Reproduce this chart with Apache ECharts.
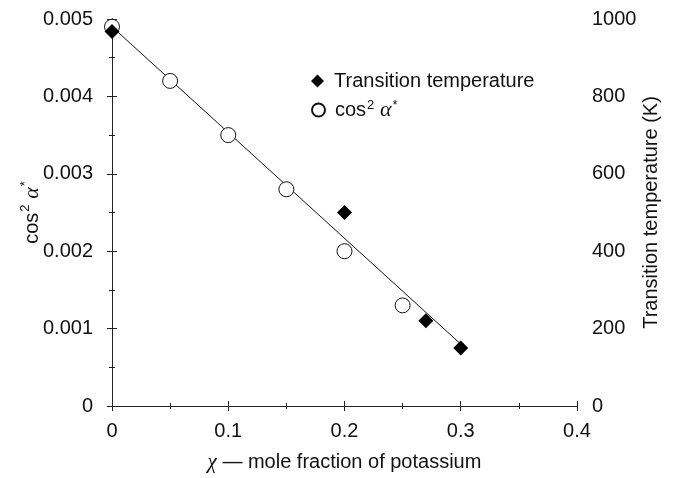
<!DOCTYPE html>
<html>
<head>
<meta charset="utf-8">
<script src="https://cdn.jsdelivr.net/npm/echarts@6/dist/echarts.min.js"></script>
<style>
  html, body { margin: 0; padding: 0; background: #fff; }
  #main { width: 673px; height: 478px; }
</style>
</head>
<body>
<div id="main"></div>
<script>
// cos^2 alpha* (open circles)
var cosX = [0, 0.05, 0.1, 0.15, 0.2, 0.25];
var cosY = [0.0049, 0.0042, 0.0035, 0.0028, 0.0020, 0.0013];
// transition temperature (filled diamonds)
var tempX = [0, 0.2, 0.27, 0.3];
var tempY = [968, 500, 220, 150];
// fitted line
var fitX = [0, 0.3];
var fitY = [0.0049, 0.0008];

var font = 'Liberation Sans, Arial, Helvetica, sans-serif';
var serif = 'Liberation Serif, DejaVu Serif, serif';
var axisColor = '#222';
var txt = '#111';

function pairs(xs, ys) {
  return xs.map(function (x, i) { return [x, ys[i]]; });
}

var rich = {
  t: { fontFamily: font, fontSize: 20, color: txt },
  s: { fontFamily: font, fontSize: 13, color: txt, verticalAlign: 'top', padding: [0, 0, 13, 1] },
  a: { fontFamily: serif, fontStyle: 'italic', fontSize: 22, color: txt }
};
var cosLabel = '{t|cos}{s|2} {a|α}{s|*}';

function legendBox(name, top) {
  return {
    orient: 'vertical',
    left: 311,
    top: top,
    padding: 0,
    itemWidth: 13,
    itemHeight: 13,
    data: [name],
    formatter: function (n) {
      return n === 'cos2' ? cosLabel : '{t|' + n + '}';
    },
    textStyle: { fontFamily: font, fontSize: 20, color: txt, lineHeight: 22, padding: [0, 0, 0, 5], rich: rich }
  };
}

var myChart = echarts.init(document.getElementById('main'));
var option = {
  animation: false,
  backgroundColor: '#fff',
  grid: { left: 112, right: 96, top: 19, bottom: 71, containLabel: false },
  legend: [legendBox('Transition temperature', 70), legendBox('cos2', 99)],
  xAxis: [
    {
      type: 'value', min: 0, max: 0.4, interval: 0.1,
      name: '{x|χ} {t|— mole fraction of potassium}',
      nameLocation: 'middle', nameGap: 46, nameMoveOverlap: false,
      nameTextStyle: { fontFamily: font, fontSize: 20, color: txt,
        rich: { x: { fontFamily: serif, fontStyle: 'italic', fontSize: 21, color: txt },
                t: { fontFamily: font, fontSize: 20, color: txt } } },
      axisLine: { show: true, lineStyle: { color: axisColor, width: 1 } },
      axisTick: { inside: true, length: 5, lineStyle: { color: axisColor } },
      minorTick: { show: true, splitNumber: 2, length: 3, lineStyle: { color: axisColor } },
      axisLabel: { margin: 15, fontFamily: font, fontSize: 20, color: txt,
        formatter: function (v) { return v === 0 ? '0' : v.toFixed(1); } },
      splitLine: { show: false }
    },
    {
      type: 'value', min: 0, max: 0.4, interval: 0.1, position: 'top',
      axisLine: { show: true, lineStyle: { color: axisColor, width: 1 } },
      axisTick: { inside: true, length: 5, lineStyle: { color: axisColor } },
      minorTick: { show: true, splitNumber: 2, length: 3, lineStyle: { color: axisColor } },
      axisLabel: { show: false },
      splitLine: { show: false }
    }
  ],
  yAxis: [
    {
      type: 'value', min: 0, max: 0.005, interval: 0.001, position: 'left',
      name: cosLabel,
      nameLocation: 'middle', nameGap: 67, nameRotate: 90, nameMoveOverlap: false,
      nameTextStyle: { fontFamily: font, fontSize: 20, color: txt, rich: rich },
      axisLine: { show: true, lineStyle: { color: axisColor, width: 1 } },
      axisTick: { inside: true, length: 5, lineStyle: { color: axisColor } },
      minorTick: { show: true, splitNumber: 2, length: 3, lineStyle: { color: axisColor } },
      axisLabel: { margin: 19, fontFamily: font, fontSize: 20, color: txt,
        formatter: function (v) { return v === 0 ? '0' : v.toFixed(3); } },
      splitLine: { show: false }
    },
    {
      type: 'value', min: 0, max: 1000, interval: 200, position: 'right',
      name: 'Transition temperature (K)',
      nameLocation: 'middle', nameGap: 64, nameRotate: 90, nameMoveOverlap: false,
      nameTextStyle: { fontFamily: font, fontSize: 20, color: txt },
      axisLine: { show: true, lineStyle: { color: axisColor, width: 1 } },
      axisTick: { inside: true, length: 5, lineStyle: { color: axisColor } },
      minorTick: { show: true, splitNumber: 2, length: 3, lineStyle: { color: axisColor } },
      axisLabel: { margin: 15, fontFamily: font, fontSize: 20, color: txt,
        formatter: function (v) { return String(v); } },
      splitLine: { show: false }
    }
  ],
  series: [
    {
      name: 'fit', type: 'line', xAxisIndex: 0, yAxisIndex: 0,
      data: pairs(fitX, fitY), showSymbol: false, symbol: 'none',
      lineStyle: { color: '#111', width: 1 }, z: 1
    },
    {
      name: 'cos2', type: 'scatter', xAxisIndex: 0, yAxisIndex: 0,
      data: pairs(cosX, cosY), symbol: 'circle', symbolSize: 15,
      itemStyle: { color: '#fff', borderColor: '#111', borderWidth: 1, opacity: 1 }, z: 2
    },
    {
      name: 'Transition temperature', type: 'scatter', xAxisIndex: 0, yAxisIndex: 1,
      data: pairs(tempX, tempY), symbol: 'diamond', symbolSize: 15,
      itemStyle: { color: '#000', opacity: 1 }, z: 3
    }
  ]
};
myChart.setOption(option);
</script>
</body>
</html>
